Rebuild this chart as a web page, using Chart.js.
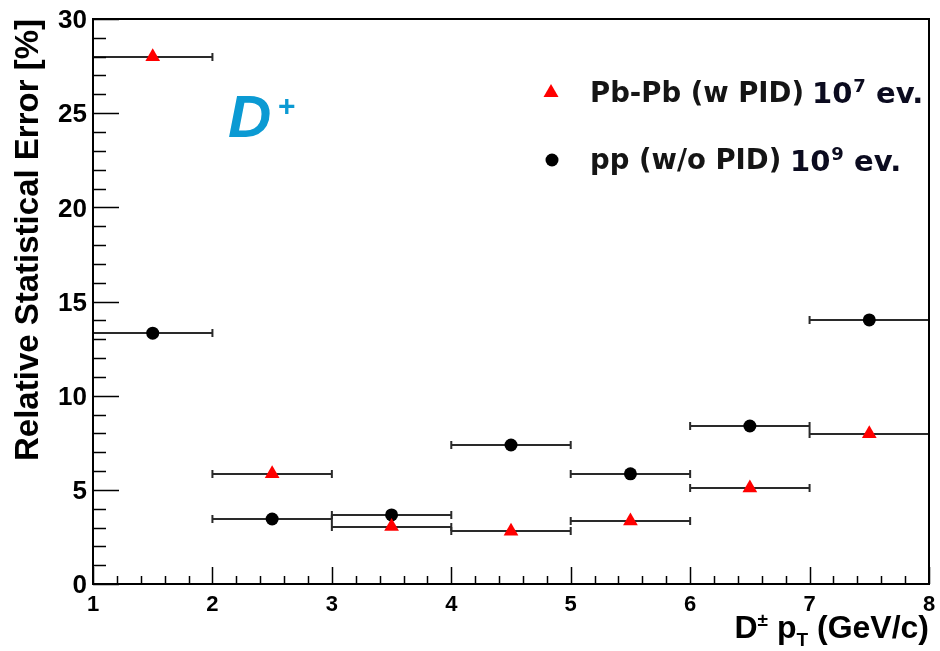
<!DOCTYPE html>
<html>
<head>
<meta charset="utf-8">
<script src="https://cdn.jsdelivr.net/npm/chart.js@4.4.1/dist/chart.umd.min.js"></script>
<style>
  html, body { margin: 0; padding: 0; background: #fff; }
  #wrap { width: 940px; height: 651px; position: relative; }
</style>
</head>
<body>
<div id="wrap"><canvas id="chart"></canvas></div>
<script>
// pT bin centres and half widths (GeV/c)
const ptBins = [1.5, 2.5, 3.5, 4.5, 5.5, 6.5, 7.5];
const ptHalfWidth = [0.5, 0.5, 0.5, 0.5, 0.5, 0.5, 0.5];

// relative statistical error [%]
const pbpbErr = [28.0, 5.85, 3.05, 2.8, 3.35, 5.1, 7.98];
const ppErr = [13.32, 3.45, 3.67, 7.38, 5.85, 8.39, 14.02];

const xTicks = [1, 2, 3, 4, 5, 6, 7, 8];
const yTicks = [0, 5, 10, 15, 20, 25, 30];

const SANS = "'Liberation Sans', Arial, sans-serif";
const DEJAVU = "'DejaVu Sans', sans-serif";

function toPoints(ys) {
    return ptBins.map((x, i) => ({ x: x, y: ys[i], xerr: ptHalfWidth[i] }));
}

// Horizontal error bars with end caps
const errorBars = {
    id: "errorBars",
    beforeDatasetsDraw(chart) {
        const ctx = chart.ctx;
        const xs = chart.scales.x, ys = chart.scales.y;
        ctx.save();
        ctx.strokeStyle = "#2a2a2a";
        ctx.lineWidth = 2;
        chart.data.datasets.forEach(ds => {
            ds.data.forEach(p => {
                const x1 = xs.getPixelForValue(p.x - p.xerr);
                const x2 = xs.getPixelForValue(p.x + p.xerr);
                const y = Math.round(ys.getPixelForValue(p.y));
                ctx.beginPath();
                ctx.moveTo(x1, y); ctx.lineTo(x2, y);
                ctx.moveTo(x1, y - 4); ctx.lineTo(x1, y + 4);
                ctx.moveTo(x2, y - 4); ctx.lineTo(x2, y + 4);
                ctx.stroke();
            });
        });
        ctx.restore();
    }
};

// ROOT style frame, ticks, titles, legend and label
const decorations = {
    id: "decorations",
    afterDraw(chart) {
        const ctx = chart.ctx;
        const a = chart.chartArea;
        const xs = chart.scales.x, ys = chart.scales.y;
        ctx.save();
        ctx.strokeStyle = "#000";
        ctx.lineWidth = 2;
        ctx.strokeRect(a.left, a.top, a.right - a.left, a.bottom - a.top);

        // tick marks
        ctx.lineWidth = 1.5;
        ctx.beginPath();
        for (let v = 0; v <= 30; v++) {
            const y = Math.round(ys.getPixelForValue(v)) + 0.5;
            const len = v % 5 === 0 ? 26 : 13;
            ctx.moveTo(a.left, y); ctx.lineTo(a.left + len, y);
        }
        for (let k = 0; k <= 35; k++) {
            const x = Math.round(xs.getPixelForValue(1 + k * 0.2)) + 0.5;
            const len = k % 5 === 0 ? 17 : 8;
            ctx.moveTo(x, a.bottom); ctx.lineTo(x, a.bottom - len);
        }
        ctx.stroke();

        // y title
        ctx.fillStyle = "#000";
        ctx.save();
        ctx.translate(38, a.top);
        ctx.rotate(-Math.PI / 2);
        ctx.font = "bold 33px " + SANS;
        ctx.textAlign = "right";
        ctx.textBaseline = "alphabetic";
        ctx.fillText("Relative Statistical Error [%]", 0, 0);
        ctx.restore();

        // x title: D^{±} p_{T} (GeV/c), right aligned at the axis end
        const parts = [
            { t: "D", f: "bold 32px " + SANS, dy: 0 },
            { t: "\u00b1", f: "bold 19px " + SANS, dy: -12 },
            { t: " p", f: "bold 32px " + SANS, dy: 0 },
            { t: "T", f: "bold 19px " + SANS, dy: 8 },
            { t: " (GeV/c)", f: "bold 32px " + SANS, dy: 0 }
        ];
        let total = 0;
        parts.forEach(p => { ctx.font = p.f; p.w = ctx.measureText(p.t).width; total += p.w; });
        let cx = a.right - total;
        const base = 638;
        ctx.textAlign = "left";
        parts.forEach(p => {
            ctx.font = p.f;
            ctx.fillText(p.t, cx, base + p.dy);
            cx += p.w;
        });

        // D+ label
        ctx.fillStyle = "#0b9ad3";
        ctx.font = "italic bold 60px " + SANS;
        ctx.fillText("D", 228, 137);
        ctx.font = "bold 30px " + SANS;
        ctx.fillText("+", 278, 116);

        // legend
        ctx.fillStyle = "#ff0000";
        ctx.beginPath();
        ctx.moveTo(551, 84); ctx.lineTo(558.5, 97); ctx.lineTo(543.5, 97);
        ctx.closePath(); ctx.fill();
        ctx.fillStyle = "#000";
        ctx.beginPath();
        ctx.arc(552, 160, 6.5, 0, Math.PI * 2);
        ctx.fill();

        ctx.fillStyle = "#151515";
        ctx.font = "bold 27.5px " + DEJAVU;
        ctx.fillText("Pb-Pb (w PID)", 590, 102);
        ctx.fillText("pp (w/o PID)", 590, 169);

        ctx.fillStyle = "#0b0b1f";
        const evText = (x, y, sup) => {
            ctx.font = "bold 29px " + DEJAVU;
            ctx.fillText("10", x, y);
            let w = ctx.measureText("10").width;
            ctx.font = "bold 18px " + DEJAVU;
            ctx.fillText(sup, x + w + 1, y - 11);
            w += ctx.measureText(sup).width + 1;
            ctx.font = "bold 29px " + DEJAVU;
            ctx.fillText(" ev.", x + w, y);
        };
        evText(812, 103, "7");
        evText(790, 171, "9");
        ctx.restore();
    }
};

const ctx = document.getElementById("chart").getContext("2d");
new Chart(ctx, {
    type: "scatter",
    data: {
        datasets: [
            {
                label: "Pb-Pb (w PID) 10^7 ev.",
                data: toPoints(pbpbErr),
                pointStyle: "triangle",
                pointRadius: 8.5,
                backgroundColor: "#ff0000",
                borderColor: "#ff0000",
                borderWidth: 0
            },
            {
                label: "pp (w/o PID) 10^9 ev.",
                data: toPoints(ppErr),
                pointStyle: "circle",
                pointRadius: 6.5,
                backgroundColor: "#000000",
                borderColor: "#000000",
                borderWidth: 0
            }
        ]
    },
    options: {
        responsive: true,
        maintainAspectRatio: false,
        animation: false,
        layout: { padding: { left: 0, right: 11, top: 19, bottom: 0 } },
        plugins: {
            legend: { display: false },
            tooltip: { enabled: false }
        },
        scales: {
            x: {
                type: "linear",
                min: 1,
                max: 8,
                afterFit: s => { s.height = 67; s.paddingLeft = 0; s.paddingRight = 0; },
                afterBuildTicks: s => { s.ticks = xTicks.map(v => ({ value: v })); },
                grid: { display: false, drawTicks: false },
                border: { display: false },
                ticks: {
                    padding: 8,
                    color: "#000",
                    maxRotation: 0,
                    font: { family: SANS, size: 22, weight: "bold" }
                }
            },
            y: {
                type: "linear",
                min: 0,
                max: 30,
                afterFit: s => { s.width = 93; s.paddingTop = 0; s.paddingBottom = 0; },
                afterBuildTicks: s => { s.ticks = yTicks.map(v => ({ value: v })); },
                grid: { display: false, drawTicks: false },
                border: { display: false },
                ticks: {
                    padding: 6,
                    labelOffset: 2,
                    color: "#000",
                    font: { family: SANS, size: 26, weight: "bold" }
                }
            }
        }
    },
    plugins: [errorBars, decorations]
});
</script>
</body>
</html>
